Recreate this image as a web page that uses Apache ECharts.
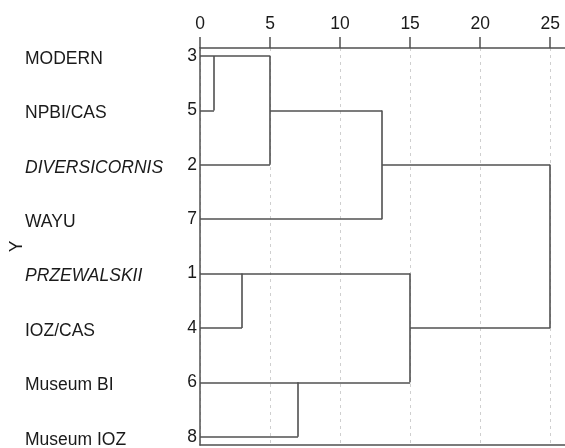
<!DOCTYPE html>
<html>
<head>
<meta charset="utf-8">
<script src="https://cdn.jsdelivr.net/npm/echarts@6/dist/echarts.min.js"></script>
<style>
  html, body { margin: 0; padding: 0; background: #fff; overflow: hidden; }
  #chart { width: 565px; height: 448px; }
</style>
</head>
<body>
<div id="chart"></div>
<script>
// Row labels (top to bottom) and the case number printed beside each leaf
const rowLabels = ['MODERN', 'NPBI/CAS', 'DIVERSICORNIS', 'WAYU', 'PRZEWALSKII', 'IOZ/CAS', 'Museum BI', 'Museum IOZ'];
const caseNumbers = [3, 5, 2, 7, 1, 4, 6, 8];
const italicRows = ['DIVERSICORNIS', 'PRZEWALSKII'];

// Agglomeration schedule: leaves are nodes 0..7 (row order), each merge creates node 8, 9, ...
const mergeLeft  = [0, 8, 9, 4, 6, 11, 10];
const mergeRight = [1, 2, 3, 5, 7, 12, 13];
const mergeDist  = [1, 5, 13, 3, 7, 15, 25];

// Rescaled distance axis ticks
const distanceTicks = [0, 5, 10, 15, 20, 25];

const FONT = '"Liberation Sans", Arial, sans-serif';
const INK = '#505050';
const TEXT = '#1a1a1a';
const FS = 17.5;

// Build the link segments from the schedule
const nodeX = [], nodeY = [], isLeaf = [];
rowLabels.forEach((_, i) => { nodeX.push(0); nodeY.push(i + 1); isLeaf.push(true); });
const segments = [];
mergeDist.forEach((d, k) => {
  const a = mergeLeft[k], b = mergeRight[k];
  segments.push({ coords: [[nodeX[a], nodeY[a]], [d, nodeY[a]]] });
  segments.push({ coords: [[nodeX[b], nodeY[b]], [d, nodeY[b]]] });
  segments.push({ coords: [[d, nodeY[a]], [d, nodeY[b]]] });
  // a pair of single cases continues along the upper case, otherwise from the midpoint
  const y = (isLeaf[a] && isLeaf[b]) ? nodeY[a] : (nodeY[a] + nodeY[b]) / 2;
  nodeX.push(d); nodeY.push(y); isLeaf.push(false);
});

const rowValues = rowLabels.map((_, i) => i + 1);
const yRange = { min: 0.853, max: 8.153, inverse: true };

const chart = echarts.init(document.getElementById('chart'), null, { renderer: 'canvas', width: 565, height: 448 });
chart.setOption({
  animation: false,
  backgroundColor: '#fff',
  textStyle: { fontFamily: FONT },
  grid: { left: 200, right: -2, top: 48, bottom: 3, containLabel: false, outerBoundsMode: 'none' },
  xAxis: [{
    type: 'value', position: 'top', min: 0, max: 26.2, interval: 5,
    axisLine: { show: true, lineStyle: { color: INK, width: 1.5 } },
    axisTick: { show: true, length: 11, customValues: distanceTicks, lineStyle: { color: INK, width: 1.5 } },
    axisLabel: { customValues: distanceTicks, fontSize: FS, color: TEXT, fontFamily: FONT, margin: 15 },
    splitLine: { show: true, lineStyle: { color: '#cfcfcf', width: 1, type: [3, 4] } }
  }, {
    type: 'value', position: 'bottom', min: 0, max: 26.2,
    axisLine: { show: true, onZero: false, lineStyle: { color: INK, width: 1.5 } },
    axisTick: { show: false }, axisLabel: { show: false }, splitLine: { show: false }
  }],
  yAxis: [{
    type: 'value', position: 'left', ...yRange,
    name: 'Y', nameLocation: 'middle', nameGap: 174, nameRotate: 90,
    nameTextStyle: { fontSize: FS, color: TEXT, fontFamily: FONT },
    axisLine: { show: true, onZero: false, lineStyle: { color: INK, width: 1.5 } },
    axisTick: { show: false },
    axisLabel: {
      customValues: rowValues, margin: 3, fontSize: FS, color: TEXT, fontFamily: FONT,
      formatter: v => String(caseNumbers[Math.round(v) - 1])
    },
    splitLine: { show: false }
  }, {
    type: 'value', position: 'left', ...yRange,
    axisLine: { show: false }, axisTick: { show: false }, splitLine: { show: false },
    axisLabel: {
      customValues: rowValues, margin: 175, align: 'left', fontSize: FS, color: TEXT, fontFamily: FONT,
      padding: [6, 0, 0, 0],
      formatter: v => {
        const name = rowLabels[Math.round(v) - 1];
        return italicRows.includes(name) ? '{it|' + name + '}' : '{n|' + name + '}';
      },
      rich: {
        n: { fontSize: FS, color: TEXT, fontFamily: FONT },
        it: { fontSize: FS, color: TEXT, fontFamily: FONT, fontStyle: 'italic' }
      }
    }
  }],
  series: [{
    type: 'lines',
    coordinateSystem: 'cartesian2d',
    xAxisIndex: 0, yAxisIndex: 0,
    polyline: false,
    silent: true,
    lineStyle: { color: INK, width: 1.6, opacity: 1 },
    data: segments
  }]
});
</script>
</body>
</html>
